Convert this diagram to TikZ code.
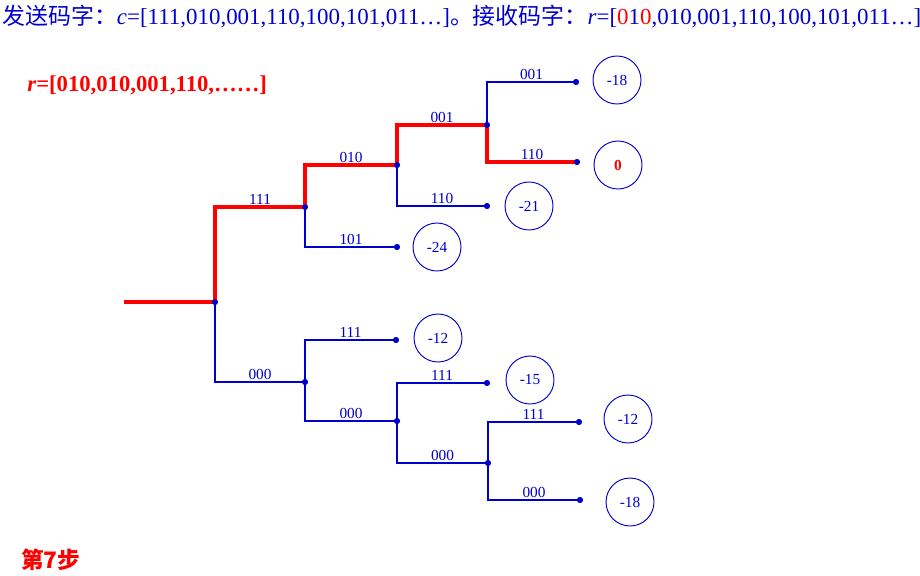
\documentclass[tikz,border=0pt]{standalone}
\usepackage{fontspec}
\setmainfont{Liberation Serif}
\newfontfamily\cjk{Noto Sans CJK SC}
\definecolor{treeblue}{RGB}{0,0,204}
\tikzset{
  branch/.style={draw=treeblue,line width=0.85pt},
  redpath/.style={draw=red,line width=2.4pt},
  code/.style={above,inner sep=1.5pt,text=treeblue,font=\fontsize{11.5}{12}\selectfont},
  knot/.style={circle,fill=treeblue,inner sep=0pt,minimum size=4.4pt},
  metric/.style={circle,draw=treeblue,line width=0.7pt,minimum size=36pt,inner sep=0pt,text=treeblue,font=\fontsize{11.5}{12}\selectfont}
}
\begin{document}
\begin{tikzpicture}[x=0.75pt,y=-0.75pt]
\useasboundingbox (0,0) rectangle (920,575);
\node[anchor=west,inner sep=0pt,text=treeblue,font=\fontsize{17.2}{19}\selectfont] (head) at (2,17)
  {{\cjk 发送码字：}\textit{c}=[111,010,001,110,100,101,011\ldots]{\cjk 。接收码字：}\textit{r}=[\textcolor{red}{0}1\textcolor{red}{0},010,001,110,100,101,011\ldots]};
\node[anchor=west,inner sep=0pt,text=red,font=\fontsize{17}{19}\selectfont\bfseries] (rline) at (27,85)
  {\textit{r}=[010,010,001,110,\ldots\ldots]};
\node[anchor=west,inner sep=0pt,text=red,font=\fontsize{17}{19}\selectfont\cjk\bfseries] (step) at (21,560) {第7步};
\coordinate (s) at (124,302);
\node[knot] (a) at (215,302) {};
\node[knot] (b) at (305,207) {};
\node[knot] (c) at (397,165) {};
\node[knot] (d) at (487,125) {};
\node[knot] (d1) at (576,82) {};
\node[knot] (d2) at (577,162) {};
\node[knot] (c2) at (487,206) {};
\node[knot] (b2) at (397,247) {};
\node[knot] (e) at (305,382) {};
\node[knot] (e1) at (396,340) {};
\node[knot] (f) at (397,421) {};
\node[knot] (f1) at (487,383) {};
\node[knot] (g) at (488,463) {};
\node[knot] (g1) at (579,422) {};
\node[knot] (g2) at (580,500) {};
\draw[branch] (a.center) |- node[code,pos=0.75]{111} (b.center);
\draw[branch] (a.center) |- node[code,pos=0.75]{000} (e.center);
\draw[branch] (b.center) |- node[code,pos=0.75]{010} (c.center);
\draw[branch] (b.center) |- node[code,pos=0.75]{101} (b2.center);
\draw[branch] (c.center) |- node[code,pos=0.75]{001} (d.center);
\draw[branch] (c.center) |- node[code,pos=0.75]{110} (c2.center);
\draw[branch] (d.center) |- node[code,pos=0.75]{001} (d1.center);
\draw[branch] (d.center) |- node[code,pos=0.75]{110} (d2.center);
\draw[branch] (e.center) |- node[code,pos=0.75]{111} (e1.center);
\draw[branch] (e.center) |- node[code,pos=0.75]{000} (f.center);
\draw[branch] (f.center) |- node[code,pos=0.75]{111} (f1.center);
\draw[branch] (f.center) |- node[code,pos=0.75]{000} (g.center);
\draw[branch] (g.center) |- node[code,pos=0.75]{111} (g1.center);
\draw[branch] (g.center) |- node[code,pos=0.75]{000} (g2.center);
\draw[redpath] (s) -- (a.center) |- (b.center) |- (c.center) |- (d.center) |- (d2.center);
\foreach \k in {a,b,c,d,d1,d2,c2,b2,e,e1,f,f1,g,g1,g2}
  \node[knot] at (\k) {};
\node[metric] (m1) at (617,80) {-18};
\node[metric,text=red,font=\fontsize{11.5}{12}\selectfont\bfseries] (m2) at (618,165) {0};
\node[metric] (m3) at (529,206) {-21};
\node[metric] (m4) at (437,247) {-24};
\node[metric] (m5) at (438,338) {-12};
\node[metric] (m6) at (530,380) {-15};
\node[metric] (m7) at (628,419) {-12};
\node[metric] (m8) at (630,502) {-18};
\end{tikzpicture}
\end{document}
